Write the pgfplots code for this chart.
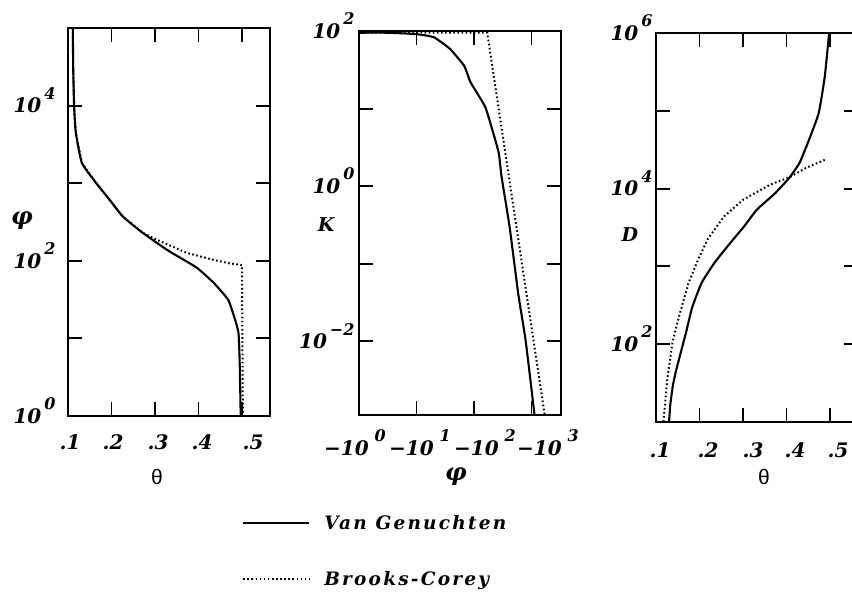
\documentclass[border=0pt]{standalone}
\usepackage{pgfplots}
\pgfplotsset{compat=1.18}
\usepackage{fontspec}
\setmainfont{DejaVu Serif}
\newfontfamily\thetafont{Liberation Sans}

% fonts for tick labels, axis labels and legend
\newcommand{\ticklabfont}{\fontsize{20}{21}\selectfont\bfseries\itshape}
\newcommand{\axlabfont}{\fontsize{19}{20}\selectfont\bfseries\itshape}
\newcommand{\phifont}{\fontsize{24}{24}\selectfont\bfseries\itshape}
\newcommand{\legfont}{\fontsize{18.5}{20}\selectfont\bfseries\itshape\addfontfeatures{LetterSpace=12}}
% decade labels: "10" with a raised exponent that does not count for the height
\newcommand{\expo}[1]{\smash{\raisebox{13.5pt}{\fontsize{16}{16}\selectfont #1}}}
\newcommand{\dec}[1]{10\hspace{3pt}\expo{#1}}
\newcommand{\mdec}[2]{\makebox[0pt]{\hspace*{#1}−10\hspace{6pt}\expo{#2}}}
\newcommand{\shifted}[2]{\makebox[0pt]{\hspace*{#1}#2}}

\pgfplotsset{
  panel/.style={
    scale only axis, width=202pt,
    xminorticks=false, yminorticks=false,
    axis line style={line width=2.2pt},
    every tick/.style={black, line width=1.9pt},
    major tick length=14pt,
    tick align=inside,
    tick label style={font=\ticklabfont},
    every axis y label/.style={anchor=center, font=\axlabfont},
    every axis x label/.style={anchor=center},
  },
  vg/.style={black, line width=2.1pt, line join=round},
  bc/.style={black, line width=2pt, dash pattern=on 1.6pt off 2.5pt},
}

\begin{document}
\begin{tikzpicture}
\useasboundingbox (0pt,0pt) rectangle (852pt,595pt);

% ---- suction head against water content
\begin{axis}[panel, ymode=log, at={(68pt,179pt)}, anchor=south west, height=388pt,
  xmin=0.1, xmax=0.5644, ymin=1, ymax=1e5,
  xtick={0.1,0.2,0.3,0.4,0.5},
  xticklabels={\shifted{4pt}{.1},\shifted{3pt}{.2},\shifted{6pt}{.3},\shifted{7pt}{.4},\shifted{22pt}{.5}},
  xticklabel style={yshift=-15pt},
  ytick={1,10,100,1000,10000},
  yticklabels={\dec{0},,\dec{2},,\dec{4}},
  yticklabel style={xshift=-9pt},
  xlabel={\thetafont\fontsize{21}{21}\selectfont θ},
  xlabel style={at={(axis description cs:0.44,-0.157)}},
  ylabel={\phifont φ},
  ylabel style={at={(axis description cs:-0.228,0.505)}},
]
\addplot[bc] coordinates {
  (0.111,1e5) (0.112,3e4) (0.114,1e4) (0.118,4467) (0.132,1820)
  (0.165,1000) (0.195,617) (0.226,372) (0.272,229) (0.305,186)
  (0.374,126) (0.434,103) (0.470,93) (0.500,88) (0.502,1)
};
\addplot[vg, smooth, tension=0.3] coordinates {
  (0.111,1e5) (0.112,3e4) (0.114,1e4) (0.118,4467) (0.132,1820)
  (0.165,1000) (0.195,617) (0.226,372) (0.272,229) (0.328,138)
  (0.370,100) (0.398,80) (0.435,52) (0.468,31.6) (0.482,19)
  (0.492,11.7) (0.495,4.3) (0.497,1)
};
\end{axis}

% ---- conductivity against suction head
\begin{axis}[panel, xmode=log, ymode=log, at={(359pt,180pt)}, anchor=south west, height=384pt,
  xmin=1, xmax=3260, ymin=1.12e-3, ymax=100,
  xtick={1,10,100,1000},
  xticklabels={\mdec{-8pt}{0},\mdec{7pt}{1},\mdec{22pt}{2},\mdec{33pt}{3}},
  xticklabel style={yshift=-22pt},
  ytick={0.01,0.1,1,10,100},
  yticklabels={\dec{−2},,\dec{0},,\dec{2}},
  yticklabel style={xshift=-1pt},
  xlabel={\phifont φ},
  xlabel style={at={(axis description cs:0.48,-0.16)}},
  ylabel={K},
  ylabel style={at={(axis description cs:-0.163,0.497)}},
  legend style={at={(axis description cs:-0.579,-0.255)}, anchor=north west,
    draw=none, fill=none, inner sep=0pt, row sep=37pt, font=\legfont,
    /tikz/every odd column/.append style={column sep=12pt}},
  legend cell align=left,
  legend image code/.code={\draw[#1] (0pt,0pt) -- (66pt,0pt);},
]
\addplot[vg, smooth, tension=0.3] coordinates {
  (1,95) (3.16,95) (10,91) (20,83) (38,59) (67.6,35.5) (87,21.9)
  (155,10.7) (200,5.9) (269,2.69) (302,1.32) (417,0.295) (589,0.0407)
  (794,0.01) (1150,0.001)
};
\addlegendentry{Van Genuchten}
\addplot[bc] coordinates {
  (1,95) (170,95) (1738,0.001)
};
\addlegendentry{Brooks-Corey}
\end{axis}

% ---- diffusivity against water content
\begin{axis}[panel, ymode=log, at={(656pt,173pt)}, anchor=south west, height=389pt,
  xmin=0.1, xmax=0.5644, ymin=10, ymax=1e6,
  xtick={0.1,0.2,0.3,0.4,0.5},
  xticklabels={\shifted{8pt}{.1},\shifted{17pt}{.2},\shifted{20pt}{.3},\shifted{17pt}{.4},\shifted{16pt}{.5}},
  xticklabel style={yshift=-17pt},
  ytick={100,1000,10000,100000,1000000},
  yticklabels={\dec{2},,\dec{4},,\dec{6}},
  yticklabel style={xshift=0pt},
  xlabel={\thetafont\fontsize{21}{21}\selectfont θ},
  xlabel style={at={(axis description cs:0.535,-0.141)}},
  ylabel={D},
  ylabel style={at={(axis description cs:-0.129,0.481)}},
]
\addplot[bc] coordinates {
  (0.488,23400) (0.446,18600) (0.408,14100) (0.362,11200) (0.301,7240)
  (0.256,4370) (0.219,2240) (0.197,1230) (0.175,617) (0.153,229)
  (0.138,107) (0.126,35.5) (0.117,10)
};
\addplot[vg, smooth, tension=0.3] coordinates {
  (0.498,1e6) (0.488,2.75e5) (0.474,9.33e4) (0.452,4.27e4) (0.430,2.14e4)
  (0.408,1.41e4) (0.389,1.07e4) (0.370,8320) (0.332,5370) (0.302,3240)
  (0.272,2040) (0.235,1122) (0.205,617) (0.183,295) (0.169,141)
  (0.147,47.9) (0.139,30) (0.133,17) (0.130,10)
};
\end{axis}
\end{tikzpicture}
\end{document}
